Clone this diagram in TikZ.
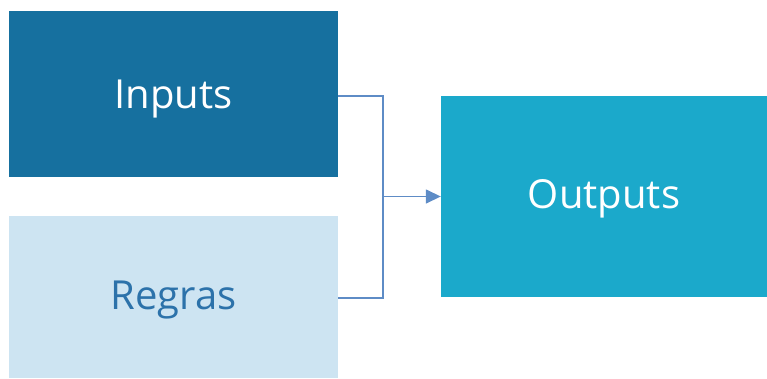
\documentclass[tikz,border=0pt]{standalone}
\usepackage{fontspec}
\setmainfont{Open Sans}
\usetikzlibrary{arrows.meta}
\definecolor{inblue}{HTML}{16709F}
\definecolor{rglight}{HTML}{CDE4F2}
\definecolor{outteal}{HTML}{1BA9CB}
\definecolor{linecol}{HTML}{5E8CC6}
\definecolor{rgtext}{HTML}{2C72AA}
\begin{document}
\begin{tikzpicture}[x=1pt,y=-1pt,
  box/.style={draw=none,inner sep=0pt},
  lbl/.style={inner sep=0pt,anchor=base,font=\fontsize{40}{46}\selectfont},
  conn/.style={draw=linecol,line width=1.5pt},
  arr/.style={conn,-{Triangle[length=15pt,width=14pt]}}]
\useasboundingbox (0,0) rectangle (767,378);
\node[box,fill=inblue,minimum width=329pt,minimum height=166pt] (in) at (173.5,94) {};
\node[box,fill=rglight,minimum width=329pt,minimum height=162pt] (rg) at (173.5,297) {};
\node[box,fill=outteal,minimum width=326pt,minimum height=201pt] (out) at (604,196.5) {};
\node[lbl,text=white] (tin) at (173.5,108) {Inputs};
\node[lbl,text=rgtext] (trg) at (173.5,309) {Regras};
\node[lbl,text=white] (tout) at (604,208) {Outputs};
\coordinate (j) at (383,196.5);
\draw[conn] (in.east |- 0,96) -| (j);
\draw[conn] (rg.east |- 0,298) -| (j);
\draw[arr] (j) -- (out.west);
\end{tikzpicture}
\end{document}
